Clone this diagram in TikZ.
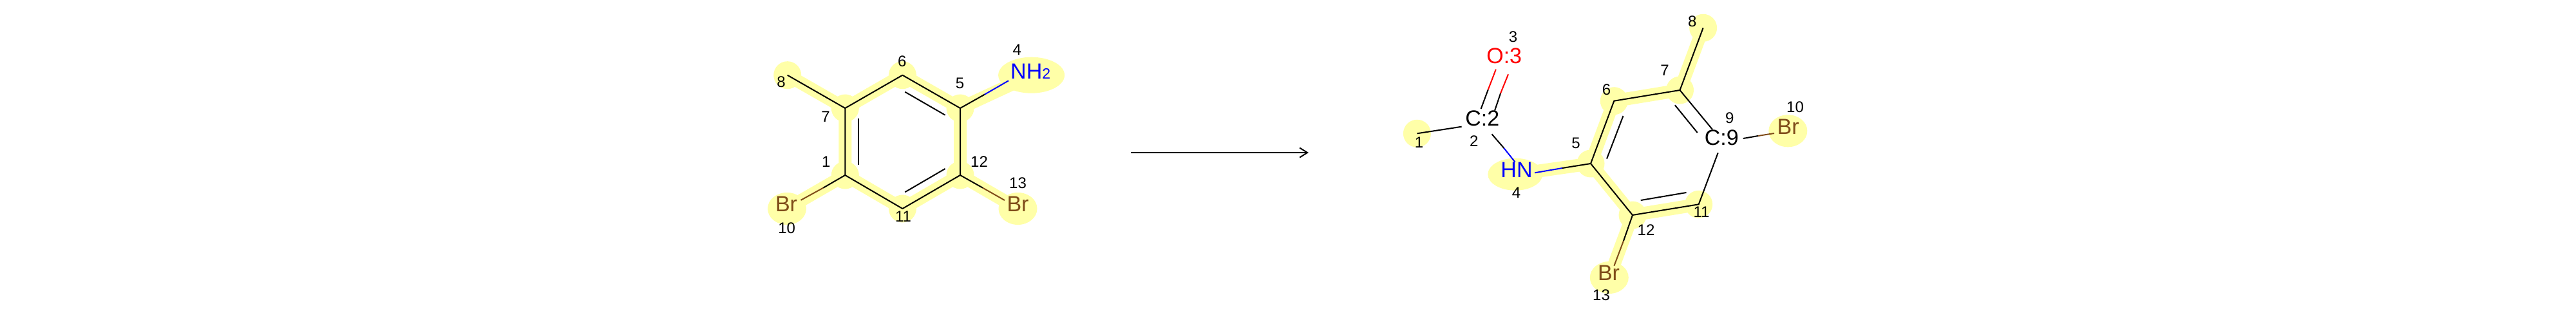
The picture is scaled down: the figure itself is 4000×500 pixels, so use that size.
\documentclass[tikz,border=0pt]{standalone}
\usepackage{fontspec}
\setmainfont{Liberation Sans}
\usetikzlibrary{arrows.meta,shapes.geometric}
\definecolor{hl}{HTML}{FFFFA8}
\definecolor{brc}{HTML}{7F4C19}
\tikzset{
  x=1pt,y=-1pt,
  band/.style={hl,line width=20pt},
  blob/.style={fill=hl,draw=none,ellipse,minimum width=43pt,minimum height=43pt,inner sep=0pt},
  bond/.style={black,line width=2pt},
  nbond/.style={blue,line width=2pt},
  obond/.style={red,line width=2pt},
  brbond/.style={brc,line width=2pt},
  numlab/.style={anchor=base,inner sep=0pt,font=\fontsize{24}{27}\selectfont,text=black},
  atomlab/.style={anchor=base,inner sep=0pt,font=\fontsize{34}{38}\selectfont},
  rxn/.style={black,line width=2pt,-{Straight Barb[length=12pt,width=15pt,line width=2pt]}},
}
\newcommand{\numl}[4]{\node[numlab] (#1) at (#2,#3+8.5) {#4};}
\begin{document}
\begin{tikzpicture}
\useasboundingbox[fill=white] (0,0) rectangle (4000,500);
% ---------- left atoms
\coordinate (a7) at (1312.3,168);
\coordinate (a6) at (1401.4,116.7);
\coordinate (a5) at (1491,168);
\coordinate (a12) at (1491,272);
\coordinate (a11) at (1401.4,324);
\coordinate (a1) at (1312.3,272);
\coordinate (a8) at (1222.7,116.7);
\coordinate (aNc) at (1601.6,116.7);
\coordinate (aBrA) at (1222,324);
\coordinate (aBrB) at (1580.5,324);
\coordinate (aNe) at (1566,125.3);
\coordinate (aNm) at (1528.9,146.7);
\coordinate (aBrAe) at (1243.5,310.8);
\coordinate (aBrAm) at (1278.3,291.7);
\coordinate (aBrBe) at (1560,311);
\coordinate (aBrBm) at (1526,291.7);
\coordinate (ai1) at (1405.3,142.7);
\coordinate (ai2) at (1467.6,178.7);
\coordinate (ai3) at (1333,184.3);
\coordinate (ai4) at (1333,256);
\coordinate (ai5) at (1405.3,298.3);
\coordinate (ai6) at (1467.6,262);
% ---------- right atoms
\coordinate (b1) at (2200.4,207.3);
\coordinate (b5) at (2470,254);
\coordinate (b6) at (2506.3,156.7);
\coordinate (b7) at (2608.5,140);
\coordinate (b8) at (2644.6,43.3);
\coordinate (b11) at (2637.7,317.3);
\coordinate (b12) at (2535,334);
\coordinate (bNc) at (2352.8,270.7);
\coordinate (bBrB) at (2498.8,431);
\coordinate (bBrA) at (2776.3,203.3);
\coordinate (bCe) at (2269.6,196.7);
\coordinate (bOa1) at (2299.6,169);
\coordinate (bOam) at (2310.7,139.3);
\coordinate (bOa2) at (2322.8,107.7);
\coordinate (bOb1) at (2321,171.7);
\coordinate (bObm) at (2330,145);
\coordinate (bOb2) at (2342,115.3);
\coordinate (bCN1) at (2316.5,208.3);
\coordinate (bCNm) at (2335.3,230);
\coordinate (bCN2) at (2352.6,251.7);
\coordinate (bNe) at (2383.2,268.3);
\coordinate (bNm) at (2426,261);
\coordinate (bBrBe) at (2506.4,412.7);
\coordinate (bBrBm) at (2521,374);
\coordinate (bC9a) at (2659,201);
\coordinate (bC9c) at (2667.7,237.3);
\coordinate (bC9r) at (2706.7,215);
\coordinate (bBrAm) at (2730,211);
\coordinate (bBrAe) at (2755,207);
\coordinate (bi1) at (2520.5,180);
\coordinate (bi2) at (2495,246.5);
\coordinate (bi3) at (2600.9,163.3);
\coordinate (bi4) at (2635.7,206);
\coordinate (bi5) at (2547.7,311);
\coordinate (bi6) at (2618.5,299);
% ---------- highlights
\draw[band] (a8)--(a7) (a7)--(a6) (a6)--(a5) (a5)--(aNc) (a5)--(a12) (a12)--(a11) (a11)--(a1) (a1)--(a7) (a1)--(aBrA) (a12)--(aBrB);
\foreach \p in {a7,a6,a5,a12,a11,a1,a8}{\node[blob] (h\p) at (\p) {};}
\node[blob,minimum width=103pt,minimum height=56pt] (haN) at (aNc) {};
\node[blob,minimum width=60pt,minimum height=50pt] (haBrA) at (aBrA) {};
\node[blob,minimum width=60pt,minimum height=50pt] (haBrB) at (aBrB) {};
\draw[band] (b8)--(b7) (b7)--(b6) (b6)--(b5) (b5)--(bNc) (b5)--(b12) (b12)--(b11) (b12)--(bBrB);
\foreach \p in {b1,b5,b6,b7,b8,b11,b12}{\node[blob] (h\p) at (\p) {};}
\node[blob,minimum width=85pt,minimum height=50pt] (hbN) at (bNc) {};
\node[blob,minimum width=60pt,minimum height=50pt] (hbBrB) at (bBrB) {};
\node[blob,minimum width=60pt,minimum height=50pt] (hbBrA) at (bBrA) {};
% ---------- left bonds
\draw[bond,line join=round] (a8)--(a7)--(a6)--(a5)--(a12)--(a11)--(a1)--(a7);
\draw[bond] (ai1)--(ai2);
\draw[bond] (ai3)--(ai4);
\draw[bond] (ai5)--(ai6);
\draw[bond] (a5)--(aNm);
\draw[nbond] (aNm)--(aNe);
\draw[bond] (a1)--(aBrAm);
\draw[brbond] (aBrAm)--(aBrAe);
\draw[bond] (a12)--(aBrBm);
\draw[brbond] (aBrBm)--(aBrBe);
% ---------- arrow
\coordinate (arrS) at (1756,237);
\coordinate (arrE) at (2032,237);
\draw[rxn] (arrS)--(arrE);
% ---------- right bonds
\draw[bond] (b1)--(bCe);
\draw[bond] (bOa1)--(bOam);
\draw[obond] (bOam)--(bOa2);
\draw[bond] (bOb1)--(bObm);
\draw[obond] (bObm)--(bOb2);
\draw[bond] (bCN1)--(bCNm);
\draw[nbond] (bCNm)--(bCN2);
\draw[nbond] (bNe)--(bNm);
\draw[bond] (bNm)--(b5);
\draw[bond,line join=round] (b5)--(b6)--(b7)--(b8);
\draw[bond] (b7)--(bC9a);
\draw[bond] (bi1)--(bi2);
\draw[bond] (bi3)--(bi4);
\draw[bond] (bi5)--(bi6);
\draw[bond,line join=round] (bC9c)--(b11)--(b12)--(b5);
\draw[bond] (b12)--(bBrBm);
\draw[brbond] (bBrBm)--(bBrBe);
\draw[bond] (bC9r)--(bBrAm);
\draw[brbond] (bBrAm)--(bBrAe);
% ---------- left atom labels
\node[atomlab,anchor=base west,text=blue] (lNH) at (1569,122.7) {NH{\fontsize{23}{26}\selectfont 2}};
\node[atomlab,text=brc] (lBrA) at (1221,328.3) {Br};
\node[atomlab,text=brc] (lBrB) at (1580.5,328.3) {Br};
\numl{l4}{1579.4}{77.3}{4}
\numl{l6}{1400.7}{95}{6}
\numl{l5}{1490.6}{129.3}{5}
\numl{l8}{1213}{126.7}{8}
\numl{l7}{1282}{180.7}{7}
\numl{l1}{1282.8}{250.7}{1}
\numl{l12}{1520.5}{250.7}{12}
\numl{l13}{1580.5}{284.3}{13}
\numl{l10}{1221.6}{354}{10}
\numl{l11}{1402.6}{336}{11}
% ---------- right atom labels
\node[atomlab,text=black] (rC2) at (2301.8,195.7) {C:2};
\node[atomlab,text=red] (rO3) at (2335.7,98.3) {O:3};
\node[atomlab,text=blue] (rHN) at (2355,275) {HN};
\node[atomlab,text=black] (rC9) at (2673.2,225.7) {C:9};
\node[atomlab,text=brc] (rBrA) at (2776.6,208.3) {Br};
\node[atomlab,text=brc] (rBrB) at (2498,435.7) {Br};
\numl{r3}{2349.6}{57}{3}
\numl{r2}{2288.8}{219}{2}
\numl{r1}{2203.6}{221}{1}
\numl{r6}{2494.6}{139}{6}
\numl{r7}{2585}{109}{7}
\numl{r8}{2627.7}{32.7}{8}
\numl{r9}{2685.7}{183}{9}
\numl{r10}{2787.5}{166}{10}
\numl{r5}{2446.9}{222}{5}
\numl{r4}{2354.5}{299.3}{4}
\numl{r13}{2486.5}{458.3}{13}
\numl{r12}{2556}{356.7}{12}
\numl{r11}{2642}{329}{11}
\end{tikzpicture}
\end{document}
